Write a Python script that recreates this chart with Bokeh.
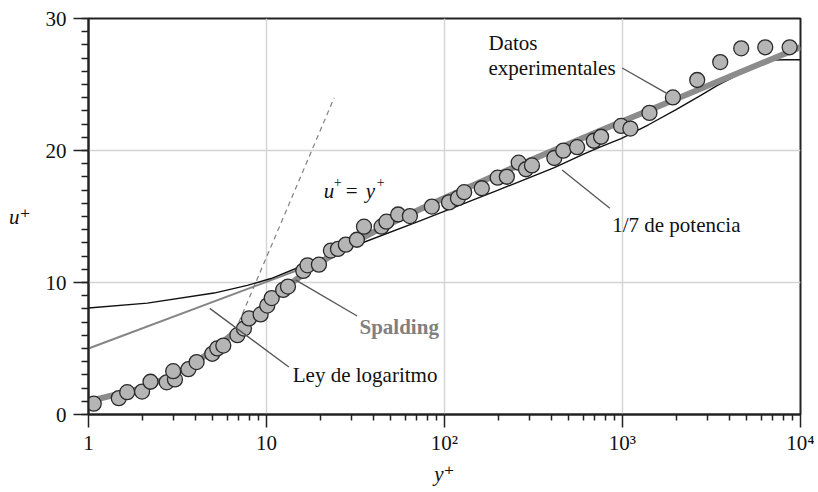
from bokeh.plotting import figure
from bokeh.models import Label, FixedTicker, Range1d
from bokeh.embed import file_html
from bokeh.resources import INLINE

# ---------------- data ----------------
# experimental points (y+, u+)
exp_y = [1.07, 1.48, 1.65, 2.00, 2.23, 2.75, 3.06, 2.99, 3.64, 4.05,
         4.96, 5.29, 5.72, 6.86, 7.47, 7.97, 9.27, 10.1, 10.7, 12.4,
         13.2, 16.1, 17.0, 19.7, 23.0, 25.2, 27.9, 32.2, 35.3, 44.3,
         47.2, 54.9, 63.9, 84.9, 106, 119, 129, 162, 199, 224,
         261, 287, 310, 414, 465, 556, 690, 758, 982, 1107,
         1417, 1919, 2628, 3540, 4645, 6340, 8690]
exp_u = [0.82, 1.24, 1.69, 1.74, 2.48, 2.44, 2.66, 3.28, 3.43, 3.97,
         4.60, 5.01, 5.22, 6.01, 6.51, 7.28, 7.58, 8.25, 8.82, 9.44,
         9.69, 10.88, 11.30, 11.35, 12.42, 12.54, 12.87, 13.24, 14.23, 14.23,
         14.61, 15.15, 15.03, 15.75, 16.07, 16.39, 16.84, 17.14, 17.94, 18.01,
         19.08, 18.58, 18.87, 19.43, 19.99, 20.25, 20.74, 21.04, 21.86, 21.66,
         22.85, 24.02, 25.34, 26.70, 27.74, 27.82, 27.82]

# Spalding curve (y+, u+)
spal_y = [1.0, 2.0, 3.01, 4.05, 5.13, 6.30, 7.63, 9.22, 11.23, 13.92, 17.64,
          22.98, 30.8, 42.4, 59.75, 85.8, 184, 408, 919, 2080, 4715, 10000]
spal_u = [1.0, 2.0, 3.0, 4.0, 5.0, 6.0, 7.0, 8.0, 9.0, 10.0, 11.0,
          12.0, 13.0, 14.0, 15.0, 16.0, 18.0, 20.0, 22.0, 24.0, 26.0, 27.83]

# log law (y+, u+)
log_y = [1.0, 20.0]
log_u = [5.0, 11.57]

# viscous sublayer u+ = y+
lin_y = [7.0, 24.0]
lin_u = [7.0, 24.0]

# 1/7 power law (y+, u+)
pow_y = [1.0, 2.14, 5.07, 7.8, 10.6, 17.0, 30.0, 74.0, 200.0, 414.0, 600.0, 758.0,
         982.0, 1400.0, 2000.0, 2767.0, 3434.0, 4258.0, 5070.0, 6000.0, 7000.0,
         8000.0, 10000.0]
pow_u = [8.07, 8.44, 9.2, 9.78, 10.3, 11.42, 12.69, 14.7, 17.0, 18.7, 19.7, 20.3,
         20.9, 21.95, 23.1, 24.2, 24.95, 25.6, 26.15, 26.6, 26.85,
         26.88, 26.88]

x_ticks = [1, 10, 100, 1000, 10000]
x_tick_labels = ["1", "10", "10\u00b2", "10\u00b3", "10\u2074"]
y_ticks = [0, 10, 20, 30]

FONT = "'Liberation Serif', 'DejaVu Serif', serif"
FS = "21px"

p = figure(width=814, height=488, x_axis_type="log",
           x_range=Range1d(1, 1e4), y_range=Range1d(0, 30),
           output_backend="svg", toolbar_location=None,
           min_border_left=88, min_border_right=14,
           min_border_top=18, min_border_bottom=68)

p.background_fill_color = "white"
p.border_fill_color = "white"
p.outline_line_color = "#222222"
p.outline_line_width = 2

# grid
p.xgrid.ticker = FixedTicker(ticks=[10, 100, 1000])
p.ygrid.ticker = FixedTicker(ticks=[10, 20])
for g in (p.xgrid, p.ygrid):
    g.grid_line_color = "#d4d4d4"
    g.grid_line_width = 1.5

# axes
p.xaxis.ticker = FixedTicker(ticks=x_ticks,
                             minor_ticks=[m * 10 ** d for d in range(4) for m in range(2, 10)])
p.xaxis.major_label_overrides = {t: l for t, l in zip(x_ticks, x_tick_labels)}
p.yaxis.ticker = FixedTicker(ticks=y_ticks, minor_ticks=list(range(0, 31)))
for ax in (p.xaxis, p.yaxis):
    ax.axis_line_color = "#222222"
    ax.axis_line_width = 2
    ax.major_tick_line_color = "#222222"
    ax.minor_tick_line_color = "#222222"
    ax.major_tick_line_width = 1.5
    ax.minor_tick_line_width = 1.5
    ax.major_tick_in = 0
    ax.minor_tick_in = 0
    ax.major_label_text_font = FONT
    ax.major_label_text_font_size = FS
    ax.major_label_text_color = "#111111"
    ax.axis_label_text_font = FONT
    ax.axis_label_text_font_size = FS
    ax.axis_label_text_font_style = "italic"
    ax.axis_label_text_color = "#111111"
p.yaxis.major_tick_out = 15
p.yaxis.minor_tick_out = 7
p.yaxis.major_label_standoff = 7
p.xaxis.major_tick_out = 13
p.xaxis.minor_tick_out = 6
p.xaxis.major_label_standoff = 3

p.xaxis.axis_label = "y\u207a"
p.xaxis.axis_label_standoff = 4
p.yaxis.axis_label = "u\u207a"
p.yaxis.axis_label_orientation = "horizontal"
p.yaxis.axis_label_standoff = 12

# curves
p.line(log_y, log_u, line_color="#858585", line_width=2)
p.line(pow_y, pow_u, line_color="#111111", line_width=1.4)
p.line(lin_y, lin_u, line_color="#808080", line_width=1.2, line_dash="5 4")
p.line(spal_y, spal_u, line_color="#8c8c8c", line_width=6)
p.scatter(exp_y, exp_u, size=15, fill_color="#b5b5b5", line_color="#2a2a2a", line_width=1.3)

# leader lines
p.segment(x0=[996, 458, 14.55, 4.80], y0=[26.25, 18.53, 10.2, 8.04],
          x1=[1783, 849, 32.3, 13.35], y1=[24.31, 15.62, 7.46, 3.60],
          line_color="#555555", line_width=1.3)

# annotations
def lab(x, y, text, **kw):
    opts = dict(text_font=FONT, text_font_size=FS, text_color="#111111",
                text_baseline="alphabetic", text_align="left")
    opts.update(kw)
    p.add_layout(Label(x=x, y=y, text=text, **opts))

lab(176.7, 28.11, "Datos")
lab(176.7, 26.25, "experimentales")
lab(875, 14.35, "1/7 de potencia")
lab(33.3, 6.66, "Spalding", text_font_style="bold", text_color="#808080")
lab(14.05, 2.985, "Ley de logaritmo")

# u+ = y+ composed of pieces
lab(21.0, 16.92, "u", text_font_style="italic")
lab(21.0, 16.92, "+", text_font_size="14px", x_offset=10, y_offset=9)
lab(21.0, 16.92, "=", x_offset=22)
lab(21.0, 16.92, "y", text_font_style="italic", x_offset=42)
lab(21.0, 16.92, "+", text_font_size="14px", x_offset=53, y_offset=9)

open("out.html", "w").write(file_html(p, INLINE))
